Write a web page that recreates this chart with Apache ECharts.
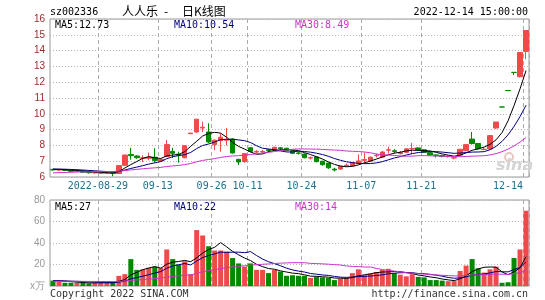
<!DOCTYPE html>
<html>
<head>
<meta charset="utf-8">
<title>人人乐 - 日K线图</title>
<script src="https://cdn.jsdelivr.net/npm/echarts@6/dist/echarts.min.js"></script>
<style>
  html, body { margin: 0; padding: 0; background: #fff; }
  #chart { width: 545px; height: 300px; }
</style>
</head>
<body>
<div id="chart"></div>
<script>
// Trading days shown on the daily K-line chart of sz002336
const dates = [
  '2022-08-17','2022-08-18','2022-08-19','2022-08-22','2022-08-23','2022-08-24','2022-08-25','2022-08-26',
  '2022-08-29','2022-08-30','2022-08-31','2022-09-01','2022-09-02','2022-09-05','2022-09-06','2022-09-07',
  '2022-09-08','2022-09-09','2022-09-13','2022-09-14','2022-09-15','2022-09-16','2022-09-19','2022-09-20',
  '2022-09-21','2022-09-22','2022-09-23','2022-09-26','2022-09-27','2022-09-28','2022-09-29','2022-09-30',
  '2022-10-10','2022-10-11','2022-10-12','2022-10-13','2022-10-14','2022-10-17','2022-10-18','2022-10-19',
  '2022-10-20','2022-10-21','2022-10-24','2022-10-25','2022-10-26','2022-10-27','2022-10-28','2022-10-31',
  '2022-11-01','2022-11-02','2022-11-03','2022-11-04','2022-11-07','2022-11-08','2022-11-09','2022-11-10',
  '2022-11-11','2022-11-14','2022-11-15','2022-11-16','2022-11-17','2022-11-18','2022-11-21','2022-11-22',
  '2022-11-23','2022-11-24','2022-11-25','2022-11-28','2022-11-29','2022-11-30','2022-12-01','2022-12-02',
  '2022-12-05','2022-12-06','2022-12-07','2022-12-08','2022-12-09','2022-12-12','2022-12-13','2022-12-14'
];

const opens = [
  6.48, 6.44, 6.46, 6.42, 6.36, 6.37, 6.30, 6.26, 6.24, 6.24,
  6.25, 6.22, 6.74, 7.42, 7.33, 7.18, 7.18, 7.25, 7.02, 7.30,
  7.62, 7.45, 7.22, 8.74, 8.85, 9.10, 8.85, 8.05, 8.30, 8.33,
  8.40, 7.12, 6.98, 7.85, 7.58, 7.58, 7.72, 7.72, 7.85, 7.82,
  7.66, 7.52, 7.45, 7.20, 7.27, 7.00, 6.88, 6.50, 6.50, 6.72,
  6.70, 6.86, 7.06, 7.00, 7.35, 7.26, 7.70, 7.66, 7.48, 7.56,
  7.78, 7.84, 7.72, 7.54, 7.40, 7.36, 7.30, 7.20, 7.38, 7.66,
  8.40, 8.12, 7.74, 7.78, 9.10, 10.43, 11.47, 12.62, 12.35, 13.95
];
const closes = [
  6.45, 6.47, 6.42, 6.36, 6.38, 6.30, 6.27, 6.28, 6.25, 6.26,
  6.22, 6.72, 7.39, 7.35, 7.22, 7.22, 7.26, 7.05, 7.10, 8.05,
  7.50, 7.40, 7.98, 8.78, 9.66, 9.15, 8.22, 8.33, 8.52, 8.36,
  7.52, 6.95, 7.48, 7.62, 7.62, 7.62, 7.68, 7.88, 7.80, 7.68,
  7.50, 7.50, 7.22, 7.22, 6.97, 6.78, 6.58, 6.45, 6.68, 6.75,
  6.92, 7.02, 7.10, 7.25, 7.38, 7.58, 7.72, 7.62, 7.55, 7.78,
  7.80, 7.70, 7.56, 7.40, 7.34, 7.30, 7.32, 7.22, 7.75, 8.05,
  8.12, 7.78, 7.76, 8.62, 9.48, 10.43, 11.47, 12.62, 13.88, 15.27
];
const lows = [
  6.40, 6.40, 6.38, 6.33, 6.32, 6.27, 6.22, 6.22, 6.20, 6.19,
  6.05, 6.20, 6.70, 7.10, 7.15, 6.95, 7.05, 6.90, 6.95, 7.25,
  7.20, 6.90, 7.18, 8.74, 8.80, 8.85, 8.15, 7.70, 7.60, 8.00,
  7.48, 6.75, 6.90, 7.55, 7.48, 7.50, 7.58, 7.65, 7.70, 7.62,
  7.45, 7.42, 7.18, 7.10, 6.93, 6.72, 6.52, 6.35, 6.45, 6.65,
  6.66, 6.80, 6.90, 6.95, 7.24, 7.22, 7.48, 7.50, 7.42, 7.52,
  7.44, 7.64, 7.52, 7.34, 7.24, 7.24, 7.22, 7.12, 7.34, 7.64,
  8.05, 7.72, 7.70, 7.75, 9.05, 10.43, 11.47, 12.45, 12.30, 13.47
];
const highs = [
  6.52, 6.50, 6.48, 6.44, 6.42, 6.39, 6.33, 6.32, 6.30, 6.29,
  6.27, 6.76, 7.42, 7.85, 7.38, 7.38, 7.55, 7.82, 7.20, 8.35,
  7.85, 7.60, 8.02, 8.78, 9.66, 9.50, 9.40, 8.38, 8.75, 9.10,
  8.45, 7.15, 7.50, 7.88, 7.70, 7.72, 7.78, 7.92, 7.90, 7.85,
  7.70, 7.62, 7.48, 7.30, 7.30, 7.02, 6.90, 6.58, 6.72, 6.85,
  6.96, 7.44, 7.56, 7.30, 7.48, 7.64, 7.92, 7.76, 7.64, 7.84,
  8.16, 7.88, 7.76, 7.56, 7.44, 7.40, 7.36, 7.28, 7.78, 8.08,
  8.85, 8.15, 7.88, 8.65, 9.48, 10.43, 11.47, 12.62, 13.88, 15.27
];
// Daily volume, in units of 10,000 shares (万)
const volumes = [
  5, 4, 3, 3, 3, 3, 2.5, 3, 3.5, 3,
  3, 9.4, 11, 25, 15, 15.5, 17, 18, 17, 34,
  25, 20, 23, 11, 52, 47, 37, 33, 33, 32,
  26, 21, 18, 21, 15, 15, 12, 15, 13.5, 9.5,
  10, 9.5, 9.5, 7.5, 8.5, 8, 7.5, 5.5, 7, 7.5,
  12, 15.5, 10, 11.5, 13, 15, 16, 12, 10.5, 9,
  11, 8.5, 8, 5.5, 5.5, 5, 4.5, 4.5, 14, 19,
  25, 16.5, 12.5, 15.5, 18, 3, 3.5, 26, 34, 70
];
// Sessions before the first visible day, used only to seed the moving averages
const priorCloses = [
  5.98, 6.02, 6.00, 6.05, 6.03, 6.08, 6.06, 6.10, 6.12, 6.09,
  6.14, 6.16, 6.13, 6.18, 6.20, 6.22, 6.25, 6.28, 6.32, 6.38,
  6.45, 6.50, 6.52, 6.55, 6.50, 6.53, 6.51, 6.48, 6.50
];
const priorVolumes = [
  4, 3.5, 4.5, 4, 3.8, 4.2, 4, 3.6, 4.4, 4,
  3.9, 4.1, 4.3, 3.7, 4, 4.2, 4.5, 4, 4.6, 5,
  5.2, 4.8, 5.5, 5, 4.6, 5.4, 5, 4.9, 5.3
];

// Dates that carry a vertical grid line and an axis label
const tickDates = ['2022-08-29','2022-09-13','2022-09-26','2022-10-11','2022-10-24','2022-11-07','2022-11-21','2022-12-14'];
const tickLabels = ['2022-08-29','09-13','09-26','10-11','10-24','11-07','11-21','12-14'];

const priceTicks = [6, 7, 8, 9, 10, 11, 12, 13, 14, 15, 16];
const volumeTicks = [0, 20, 40, 60, 80];

const RED = '#ee4a4a';
const GREEN = '#008a00';
const MA5C = '#000000';
const MA10C = '#000080';
const MA30C = '#cc33cc';
const MONO = '"DejaVu Sans Mono", monospace';

function movingAverage(prior, values, n) {
  const all = prior.concat(values);
  return values.map(function (_, i) {
    const end = prior.length + i;
    let sum = 0;
    for (let k = end - n + 1; k <= end; k++) sum += all[k];
    return +(sum / n).toFixed(4);
  });
}

const ma5 = movingAverage(priorCloses, closes, 5);
const ma10 = movingAverage(priorCloses, closes, 10);
const ma30 = movingAverage(priorCloses, closes, 30);
const vma5 = movingAverage(priorVolumes, volumes, 5);
const vma10 = movingAverage(priorVolumes, volumes, 10);
const vma30 = movingAverage(priorVolumes, volumes, 30);

const last = dates.length - 1;
const isUp = function (i) { return closes[i] > opens[i]; };

// Candles: [open, close, low, high]; flat sessions are drawn green
const candleData = dates.map(function (_, i) {
  const v = [opens[i], closes[i], lows[i], highs[i]];
  if (opens[i] === closes[i]) {
    return { value: v, itemStyle: { color: GREEN, color0: GREEN, borderColor: GREEN, borderColor0: GREEN } };
  }
  return v;
});
const volumeData = dates.map(function (_, i) {
  return { value: volumes[i], itemStyle: { color: isUp(i) ? RED : GREEN } };
});

const tickIndexes = tickDates.map(function (d) { return dates.indexOf(d); });
const showTick = function (index) { return tickIndexes.indexOf(index) >= 0; };

function maLine(name, data, color, xi, yi) {
  return {
    name: name, type: 'line', xAxisIndex: xi, yAxisIndex: yi, data: data,
    symbol: 'none', smooth: false, silent: true,
    lineStyle: { color: color, width: 1 }, z: 3
  };
}

function text(x, y, str, color, opts) {
  opts = opts || {};
  return {
    type: 'text', x: x, y: y, silent: true, z: 10,
    style: {
      text: str, fill: color,
      font: opts.font || ('10px ' + MONO),
      align: opts.align || 'left', verticalAlign: 'middle'
    }
  };
}

const chart = echarts.init(document.getElementById('chart'), null, { renderer: 'canvas' });

const splitX = { show: true, interval: showTick, lineStyle: { color: '#aaaaaa', width: 1, type: [4, 3] } };
const splitY = { show: true, lineStyle: { color: '#b8b8b8', width: 1, type: [1, 2] } };

chart.setOption({
  animation: false,
  backgroundColor: '#ffffff',
  grid: [
    { left: 50, right: 16, top: 19, height: 158, show: true, borderColor: '#999999', borderWidth: 1 },
    { left: 50, right: 16, top: 200, height: 86, show: true, borderColor: '#999999', borderWidth: 1 }
  ],
  xAxis: [
    {
      type: 'category', gridIndex: 0, data: dates, boundaryGap: true,
      axisLine: { show: false }, axisTick: { show: false },
      axisLabel: {
        interval: showTick, margin: 4, color: '#23708f', fontFamily: MONO, fontSize: 10,
        padding: [0, 6, 0, 0],
        formatter: function (value) {
          const k = tickDates.indexOf(value);
          if (k < 0) return '';
          return value === dates[last] ? '{end|' + tickLabels[k] + '}' : tickLabels[k];
        },
        rich: { end: { padding: [0, 30, 0, 0], color: '#23708f', fontFamily: MONO, fontSize: 10 } }
      },
      splitLine: splitX
    },
    {
      type: 'category', gridIndex: 1, data: dates, boundaryGap: true,
      axisLine: { show: false }, axisTick: { show: false }, axisLabel: { show: false },
      splitLine: splitX
    }
  ],
  yAxis: [
    {
      type: 'value', gridIndex: 0, min: priceTicks[0], max: priceTicks[priceTicks.length - 1], interval: 1,
      axisLine: { show: false }, axisTick: { show: false },
      axisLabel: { color: '#9b2c2c', fontFamily: '"Liberation Sans", Arial, sans-serif', fontSize: 10, margin: 5 },
      splitLine: splitY
    },
    {
      type: 'value', gridIndex: 1, min: volumeTicks[0], max: volumeTicks[volumeTicks.length - 1], interval: 20,
      axisLine: { show: false }, axisTick: { show: false },
      axisLabel: {
        color: '#999999', fontFamily: '"Liberation Sans", Arial, sans-serif', fontSize: 10, margin: 5,
        formatter: function (v) { return v === 0 ? 'x万' : String(v); }
      },
      splitLine: splitY
    }
  ],
  series: [
    {
      name: 'K', type: 'candlestick', xAxisIndex: 0, yAxisIndex: 0, data: candleData,
      barWidth: 5, silent: true,
      itemStyle: { color: RED, color0: GREEN, borderColor: RED, borderColor0: GREEN, borderWidth: 1 },
      z: 2
    },
    maLine('MA5', ma5, MA5C, 0, 0),
    maLine('MA10', ma10, MA10C, 0, 0),
    maLine('MA30', ma30, MA30C, 0, 0),
    {
      name: 'VOL', type: 'bar', xAxisIndex: 1, yAxisIndex: 1, data: volumeData,
      barWidth: 5, silent: true, z: 2
    },
    maLine('VMA5', vma5, MA5C, 1, 1),
    maLine('VMA10', vma10, MA10C, 1, 1),
    maLine('VMA30', vma30, MA30C, 1, 1)
  ],
  graphic: [
    text(50, 12, 'sz002336', '#000000'),
    text(122, 11, '人人乐', '#000000', { font: '12px "Noto Sans CJK SC", sans-serif' }),
    text(164, 11, '-', '#000000', { font: '12px "Noto Sans CJK SC", sans-serif' }),
    text(182, 11, '日K线图', '#000000', { font: '12px "Noto Sans CJK SC", sans-serif' }),
    text(528, 12, dates[last] + ' 15:00:00', '#000000', { align: 'right' }),

    text(55, 25, 'MA5:' + ma5[last].toFixed(2), MA5C),
    text(174, 25, 'MA10:' + ma10[last].toFixed(2), MA10C),
    text(295, 25, 'MA30:' + ma30[last].toFixed(2), MA30C),

    text(55, 207, 'MA5:' + Math.round(vma5[last]), MA5C),
    text(174, 207, 'MA10:' + Math.round(vma10[last]), MA10C),
    text(295, 207, 'MA30:' + Math.round(vma30[last]), MA30C),

    text(50, 294, 'Copyright 2022 SINA.COM', '#333333'),
    text(528, 294, 'http://finance.sina.com.cn', '#333333', { align: 'right' }),

    { type: 'circle', silent: true, z: 1, shape: { cx: 509, cy: 157, r: 4 },
      style: { fill: 'none', stroke: '#e6c9c0', lineWidth: 2 } },
    text(496, 166, 'sina', '#d4d4d4', { font: 'italic bold 16px "DejaVu Sans", sans-serif' })
  ]
});
</script>
</body>
</html>
